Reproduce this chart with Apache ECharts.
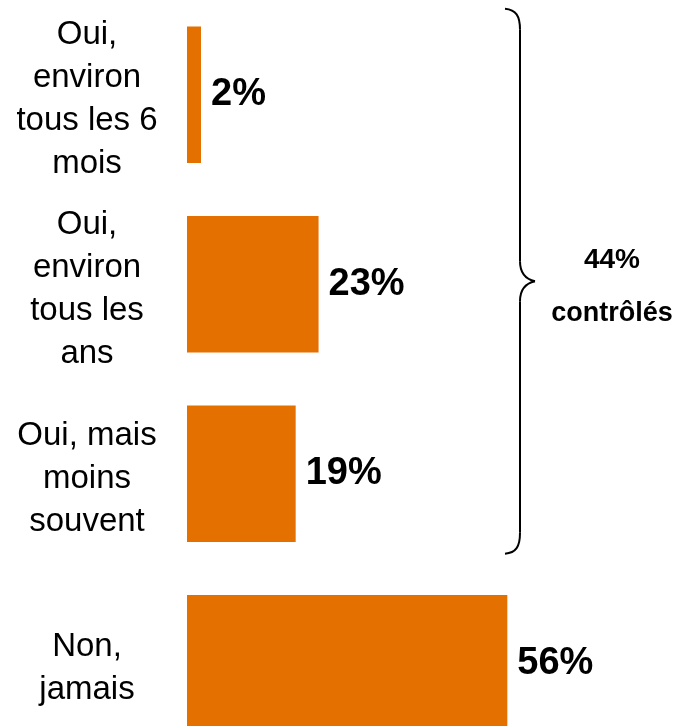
<!DOCTYPE html>
<html>
<head>
<meta charset="utf-8">
<script src="https://cdn.jsdelivr.net/npm/echarts@6/dist/echarts.min.js"></script>
<style>
  html, body { margin: 0; padding: 0; background: #fff; }
  #chart { width: 674px; height: 726px; }
</style>
</head>
<body>
<div id="chart"></div>
<script>
const categories = [
  'Oui,\nenviron\ntous les 6\nmois',
  'Oui,\nenviron\ntous les\nans',
  'Oui, mais\nmoins\nsouvent',
  'Non,\njamais'
]
const values = [2, 23, 19, 56]
const braceText = 'contrôlés'

const font = '"Liberation Sans", Arial, Helvetica, sans-serif'
const myChart = echarts.init(document.getElementById('chart'))

let option = {
  animation: false,
  grid: {
    left: 187,
    top: 0,
    width: 572,
    height: 758,
    outerBoundsMode: 'none'
  },
  xAxis: {
    type: 'value',
    min: 0,
    max: 100,
    show: false
  },
  yAxis: {
    type: 'category',
    inverse: true,
    data: categories,
    axisLine: { show: false },
    axisTick: { show: false },
    axisLabel: {
      margin: 100,
      align: 'center',
      fontSize: 33,
      lineHeight: 43,
      color: '#000',
      fontFamily: font,
      // petite ligne vide en tête pour descendre un peu le bloc
      formatter: v => '{s|}\n' + v,
      rich: {
        s: { lineHeight: 10, fontSize: 1 }
      }
    }
  },
  series: [
    {
      type: 'bar',
      data: values,
      barCategoryGap: '28%',
      barMinHeight: 14,
      itemStyle: { color: '#E47000' },
      label: {
        show: true,
        position: 'right',
        distance: 10,
        formatter: '{c}%',
        fontSize: 38,
        fontWeight: 'bold',
        color: '#000',
        fontFamily: font
      }
    }
  ]
}
myChart.setOption(option)

// accolade autour des trois "Oui"
const c0 = myChart.convertToPixel({ yAxisIndex: 0 }, categories[0])
const c2 = myChart.convertToPixel({ yAxisIndex: 0 }, categories[2])
const braceTop = c0 - 86
const braceBottom = c2 + 80
const mid = (braceTop + braceBottom) / 2
const bx = 505
const lx = bx + 15
const braceStyle = { fill: 'none', stroke: '#000', lineWidth: 2 }

const curve = (x1, y1, cx1, cy1, cx2, cy2, x2, y2) => ({
  type: 'bezierCurve',
  shape: { x1: x1, y1: y1, cpx1: cx1, cpy1: cy1, cpx2: cx2, cpy2: cy2, x2: x2, y2: y2 },
  style: braceStyle
})
const seg = (y1, y2) => ({
  type: 'line',
  shape: { x1: lx, y1: y1, x2: lx, y2: y2 },
  style: braceStyle
})

const total = values[0] + values[1] + values[2]

myChart.setOption({
  graphic: [
    curve(bx, braceTop, bx + 11, braceTop + 1, lx, braceTop + 7, lx, braceTop + 21),
    seg(braceTop + 21, mid - 20),
    curve(lx, mid - 20, lx, mid - 8, bx + 21, mid - 2, bx + 30, mid),
    curve(bx + 30, mid, bx + 21, mid + 2, lx, mid + 8, lx, mid + 20),
    seg(mid + 20, braceBottom - 21),
    curve(lx, braceBottom - 21, lx, braceBottom - 7, bx + 11, braceBottom - 1, bx, braceBottom),
    {
      type: 'text',
      x: 612,
      y: mid - 21,
      style: {
        text: total + '%',
        fontSize: 28,
        fontWeight: 'bold',
        fontFamily: font,
        fill: '#000',
        align: 'center',
        verticalAlign: 'middle'
      }
    },
    {
      type: 'text',
      x: 612,
      y: mid + 32,
      style: {
        text: braceText,
        fontSize: 27,
        fontWeight: 'bold',
        fontFamily: font,
        fill: '#000',
        align: 'center',
        verticalAlign: 'middle'
      }
    }
  ]
})

window.addEventListener('resize', () => myChart.resize())
</script>
</body>
</html>
